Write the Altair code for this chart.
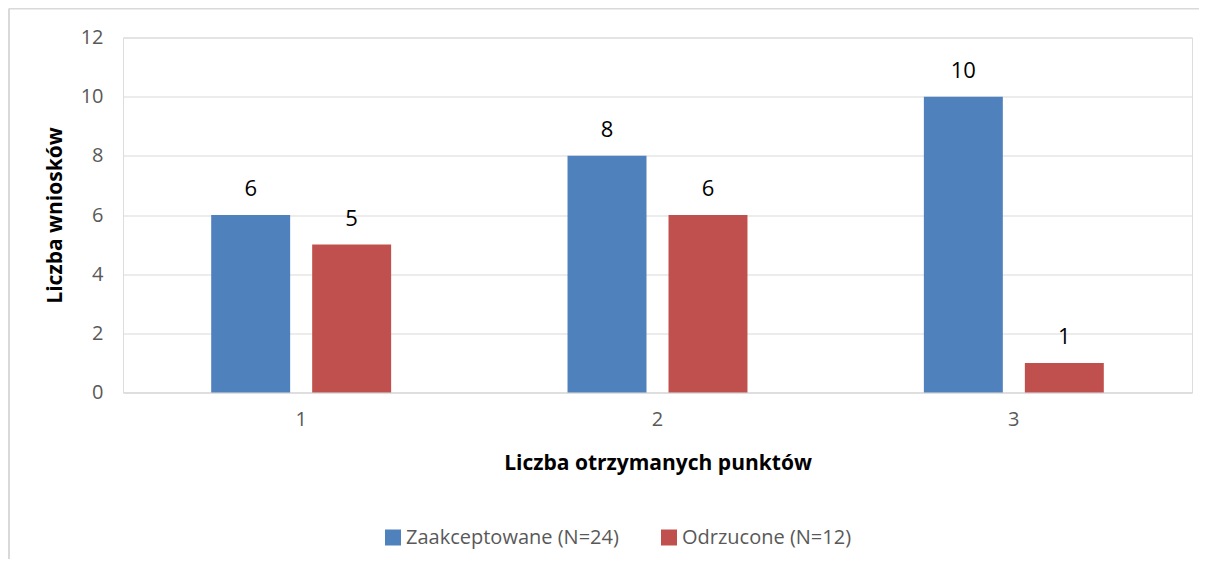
import altair as alt
import pandas as pd

categories = ["1", "2", "3"]
series = ["Zaakceptowane (N=24)", "Odrzucone (N=12)"]
accepted = [6, 8, 10]
rejected = [5, 6, 1]
colors = ["#4F81BD", "#C0504D"]

rows = []
for c, a, r in zip(categories, accepted, rejected):
    rows.append({"kat": c, "seria": series[0], "wartosc": a})
    rows.append({"kat": c, "seria": series[1], "wartosc": r})
df = pd.DataFrame(rows)

FONT = "Open Sans"
W, H = 1069, 355

x = alt.X(
    "kat:N",
    sort=categories,
    scale=alt.Scale(paddingInner=0.495, paddingOuter=0.2475),
    axis=alt.Axis(
        title="Liczba otrzymanych punktów",
        labelAngle=0,
        labelFontSize=20,
        labelColor="#595959",
        labelFont=FONT,
        labelPadding=17,
        ticks=False,
        domain=True,
        domainColor="#d9d9d9",
        titleFont=FONT,
        titleFontSize=21,
        titleFontWeight="bold",
        titleColor="#000000",
        titleY=71,
        titleBaseline="middle",
    ),
)
xoff = alt.XOffset("seria:N", sort=series, scale=alt.Scale(paddingInner=0.218, paddingOuter=0))
y = alt.Y(
    "wartosc:Q",
    scale=alt.Scale(domain=[0, 12]),
    axis=alt.Axis(
        title="Liczba wniosków",
        values=[0, 2, 4, 6, 8, 10, 12],
        labelFontSize=20,
        labelColor="#595959",
        labelFont=FONT,
        labelPadding=20,
        ticks=False,
        domain=False,
        grid=True,
        gridColor="#d9d9d9",
        gridWidth=1,
        titleFont=FONT,
        titleFontSize=21,
        titleFontWeight="bold",
        titleColor="#000000",
        titleX=-68,
        titleY=H / 2,
        titleAngle=270,
        titleAlign="center",
        titleBaseline="middle",
    ),
)
color = alt.Color(
    "seria:N",
    sort=series,
    scale=alt.Scale(domain=series, range=colors),
    legend=alt.Legend(
        title=None,
        orient="none",
        direction="horizontal",
        legendX=260,
        legendY=490,
        symbolType="square",
        symbolSize=256,
        symbolStrokeWidth=0,
        symbolOpacity=1,
        labelFont=FONT,
        labelFontSize=20,
        labelColor="#595959",
        labelOffset=3,
        labelLimit=0,
        columnPadding=40,
    ),
)

base = alt.Chart(df)
bars = base.mark_bar(opacity=1).encode(x=x, xOffset=xoff, y=y, color=color)
labels = base.mark_text(
    font=FONT, fontSize=22, color="#000000", dy=-19, baseline="alphabetic"
).encode(x=x, xOffset=xoff, y=y, text="wartosc:Q")

frame_df = pd.DataFrame({"f": [0]})
frame_left = alt.Chart(frame_df).mark_rule(color="#d9d9d9", strokeWidth=2).encode(
    x=alt.value(-114), y=alt.value(-29), y2=alt.value(H + 170)
)
frame_top = alt.Chart(frame_df).mark_rule(color="#d9d9d9", strokeWidth=2).encode(
    x=alt.value(-114), x2=alt.value(W + 10), y=alt.value(-29)
)

chart = (
    alt.layer(bars, labels, frame_left, frame_top)
    .properties(
        width=W,
        height=H,
        autosize=alt.AutoSizeParams(type="none"),
        padding={"left": 115, "top": 29.5, "right": 7, "bottom": 166},
    )
    .configure_view(stroke=None)
    .configure(background="#ffffff")
)

chart.save("out.html", embed_options={"renderer": "svg", "actions": False})
